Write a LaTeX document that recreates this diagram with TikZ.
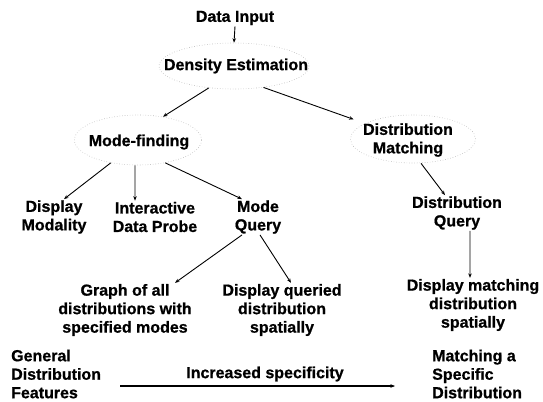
\documentclass[tikz,border=0pt]{standalone}
\usepackage{fontspec}
\setmainfont{Liberation Sans}[BoldFeatures={FakeBold=0.8}]
\usetikzlibrary{shapes.geometric,arrows.meta}
\begin{document}
\begin{tikzpicture}[x=1bp,y=-1bp,
  lbl/.style={font=\fontsize{16bp}{18.5bp}\selectfont\bfseries, align=center, inner sep=1bp},
  lbll/.style={lbl, align=left, anchor=west},
  ell/.style={draw=gray!55, dotted, line width=0.6bp, ellipse, inner sep=0pt},
  conn/.style={line width=0.9bp, -{Stealth[length=4.5bp,width=3.5bp]}}
]
\useasboundingbox (0,0) rectangle (543,401);

% faint ellipses
\node[ell, minimum width=150bp, minimum height=46bp] (densE) at (234,66) {};
\node[ell, minimum width=127bp, minimum height=50bp] (modeE) at (138,140) {};
\node[ell, minimum width=125bp, minimum height=48bp] (dmatchE) at (413,139) {};

% labels
\node[lbl] (datain) at (235,18) {Data Input};
\node[lbl] (dens) at (236,66) {Density Estimation};
\node[lbl] (mode) at (139,142) {Mode-finding};
\node[lbl] (dmatch) at (408,140) {Distribution\\Matching};
\node[lbl] (dmod) at (54,217) {Display\\Modality};
\node[lbl] (idp) at (155,217) {Interactive\\Data Probe};
\node[lbl] (mq) at (258,217) {Mode\\Query};
\node[lbl] (dq) at (457,213) {Distribution\\Query};
\node[lbl] (graph) at (125,310) {Graph of all\\distributions with\\specified modes};
\node[lbl] (dqs) at (282,310) {Display queried\\distribution\\spatially};
\node[lbl] (dms) at (473,305) {Display matching\\distribution\\spatially};
\node[lbll] (general) at (10,374) {General\\Distribution\\Features};
\node[lbl] (incr) at (265,374) {Increased specificity};
\node[lbll] (matcha) at (431,374) {Matching a\\Specific\\Distribution};

% connectors
\draw[conn] (datain.south) -- (densE.north);
\draw[conn] (densE.221) -- (modeE.43);
\draw[conn, shorten >=12bp] (densE.-36) -- (dmatchE.162);
\draw[conn] (modeE.220) -- ([xshift=10bp]dmod.north);
\draw[conn] ([xshift=-3bp]modeE.south) -- ([xshift=-20bp]idp.north);
\draw[conn] (modeE.-40) -- ([xshift=-16bp]mq.north);
\draw[conn] ([xshift=8bp]dmatchE.south) -- ([xshift=-12bp]dq.north);
\draw[conn] ([xshift=13bp]dq.south) -- ([xshift=-3bp]dms.north);
\draw[conn] ([xshift=-16bp]mq.south) -- ([xshift=50bp]graph.north);
\draw[conn] ([xshift=2bp]mq.south) -- ([xshift=9bp]dqs.north);
\draw[conn, line width=1.2bp, shorten <=18bp, shorten >=36bp] ([yshift=-12bp]general.east) -- ([yshift=-12bp]matcha.west);
\end{tikzpicture}
\end{document}
